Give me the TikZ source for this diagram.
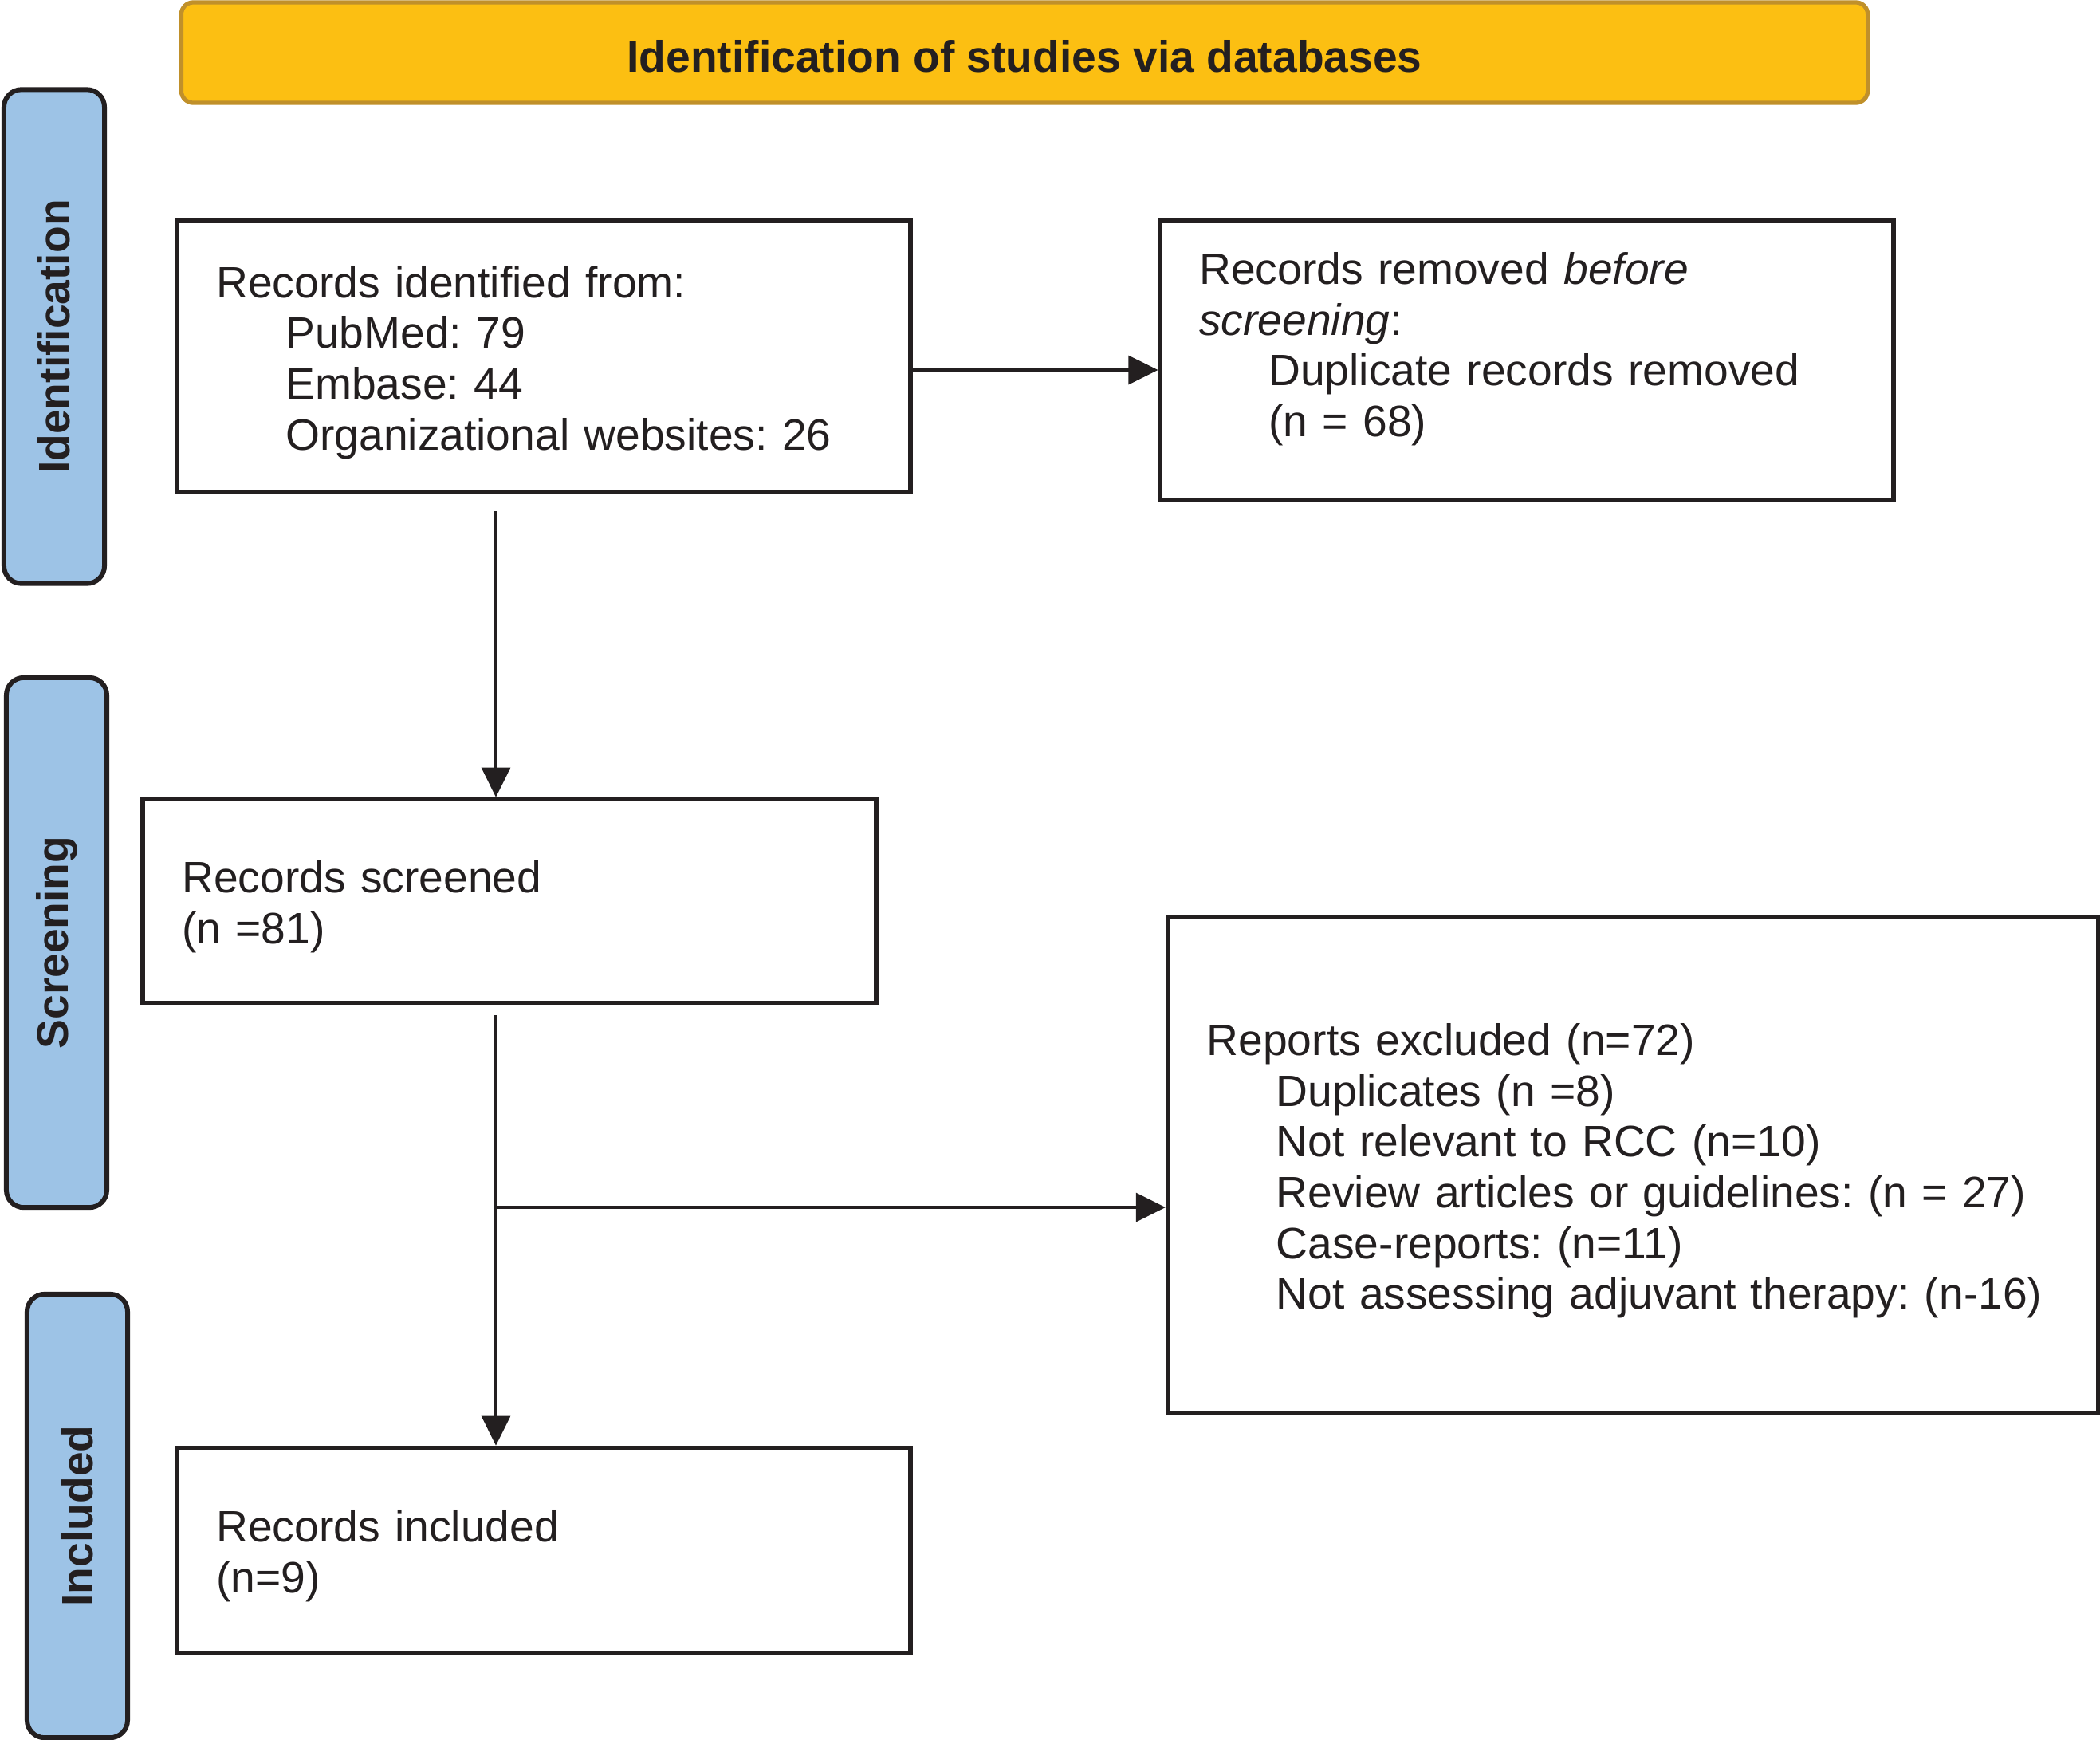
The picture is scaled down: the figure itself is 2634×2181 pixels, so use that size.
\documentclass[tikz,border=0pt]{standalone}
\usepackage{fontspec}
\setmainfont{Liberation Sans}
\usepackage{tikz}
\usetikzlibrary{arrows.meta, positioning}
\definecolor{myink}{HTML}{231F20}
\definecolor{myblue}{HTML}{9DC3E6}
\definecolor{mygold}{HTML}{FCBF12}
\definecolor{mygoldedge}{HTML}{C0902A}
\frenchspacing

\begin{document}
\begin{tikzpicture}[x=0.01cm, y=-0.01cm, font=\fontsize{15.7}{18.1}\selectfont, color=myink]
    % Define styles for boxes, phases and arrows
    \tikzstyle{stage}=[rectangle, draw=myink, line width=1.6pt, inner xsep=0.49cm, align=left, text=myink,
        execute at begin node={\rule{0pt}{15.5pt}}]
    \tikzstyle{phase}=[rectangle, rounded corners=0.22cm, draw=myink, fill=myblue, line width=1.7pt, rotate=90, font=\fontsize{15.7}{18.1}\selectfont\bfseries]
    \tikzstyle{banner}=[rectangle, rounded corners=0.15cm, draw=mygoldedge, fill=mygold, line width=1.5pt, font=\fontsize{15.7}{18.1}\selectfont\bfseries,
        execute at begin node={\rule{0pt}{14pt}}]
    \tikzstyle{arr}=[draw=myink, line width=0.9pt, -{Triangle[length=0.37cm, width=0.36cm]}]

    \useasboundingbox (0,0) rectangle (2634,2181);

    % Header
    \node[banner, minimum width=21.14cm, minimum height=1.26cm] (head) at (1285,66) {Identification of studies via databases};

    % Phase labels
    \node[phase, minimum width=6.19cm, minimum height=1.26cm] (P-id) at (68,422) {Identification};
    \node[phase, minimum width=6.64cm, minimum height=1.26cm] (P-scr) at (71,1182) {Screening};
    \node[phase, minimum width=5.56cm, minimum height=1.26cm] (P-inc) at (97,1901) {Included};

    % Identification
    \node[stage, text width=8.21cm, minimum height=3.40cm] (idbox) at (682,447) {Records identified from:\\
        \hspace*{0.87cm}PubMed: 79\\
        \hspace*{0.87cm}Embase: 44\\
        \hspace*{0.87cm}Organizational websites: 26};
    \node[stage, text width=8.21cm, minimum height=3.50cm] (rmvbox) at (1915,452) {Records removed \textit{before}\\
        \textit{screening}:\\
        \hspace*{0.87cm}Duplicate records removed\\
        \hspace*{0.87cm}(n = 68)\\[-2.5pt]\mbox{}};

    % Screening
    \node[stage, text width=8.21cm, minimum height=2.55cm] (scrbox) at (639,1130) {Records screened\\
        (n =81)};
    \node[stage, text width=10.68cm, minimum height=6.21cm] (excbox) at (2048,1461) {Reports excluded (n=72)\\
        \hspace*{0.87cm}Duplicates (n =8)\\
        \hspace*{0.87cm}Not relevant to RCC (n=10)\\
        \hspace*{0.87cm}Review articles or guidelines: (n = 27)\\
        \hspace*{0.87cm}Case-reports: (n=11)\\
        \hspace*{0.87cm}Not assessing adjuvant therapy: (n-16)};

    % Included
    \node[stage, text width=8.21cm, minimum height=2.57cm] (incbox) at (682,1944) {Records included\\
        (n=9)};

    % Connections
    \coordinate (spine) at (622,0);
    \coordinate (split) at (622,1514);
    \draw[arr] ([yshift=-0.17cm]idbox.east) -- ([yshift=-0.17cm]idbox.east -| rmvbox.west);
    \draw[arr] ([yshift=-0.21cm]spine |- idbox.south) -- (spine |- scrbox.north);
    \draw[arr] ([yshift=-0.13cm]spine |- scrbox.south) -- (spine |- incbox.north);
    \draw[arr] (split) -- (split -| excbox.west);

\end{tikzpicture}
\end{document}
